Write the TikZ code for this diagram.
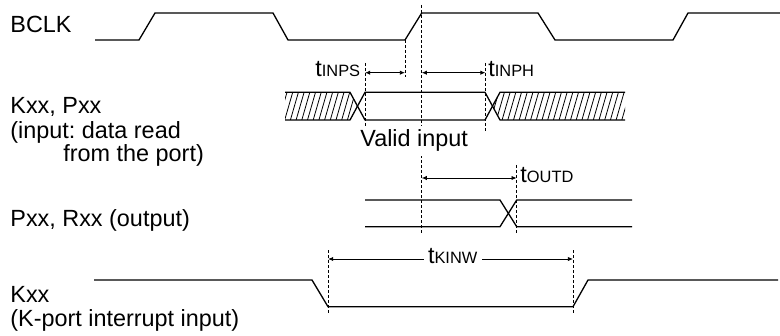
\documentclass[tikz,border=0pt]{standalone}
\usepackage{fontspec}
\setmainfont{Liberation Sans}
\usetikzlibrary{arrows.meta}
\frenchspacing
\newcommand{\tsub}[1]{t{\fontsize{8.2}{9}\selectfont #1}}
\tikzset{
  sig/.style={line width=0.65pt, line join=miter},
  guide/.style={line width=0.4pt, dash pattern=on 1.5pt off 1pt},
  dimarrow/.style={line width=0.45pt, {Latex[length=2.6pt,width=2.2pt]}-{Latex[length=2.6pt,width=2.2pt]}},
  lbl/.style={anchor=base west, inner sep=0pt, font=\fontsize{11.7}{14}\selectfont},
  hatch/.style={line width=0.4pt}
}
\begin{document}
\begin{tikzpicture}[x=0.5pt,y=-0.5pt]
\useasboundingbox (0,0) rectangle (780,336);

% left labels
\node[lbl] (lbclk) at (10,33) {BCLK};
\node[lbl] (lkp1) at (10,114) {Kxx, Pxx};
\node[lbl] (lkp2) at (10,139) {(input: data read};
\node[lbl] (lkp3) at (63,162) {from the port)};
\node[lbl] (lpr) at (10,227) {Pxx, Rxx (output)};
\node[lbl] (lk1) at (10,302) {Kxx};
\node[lbl] (lk2) at (10,326) {(K-port interrupt input)};

% BCLK
\draw[sig] (95,40) -- (139,40) -- (155,13) -- (273,13) -- (288,40) -- (405,40)
  -- (421.7,13) -- (538,13) -- (555,40) -- (673,40) -- (688,13) -- (780,13);

% Data input bus
\begin{scope}
  \clip (285,92.3) -- (350,92.3) -- (357.5,106.2) -- (350,120) -- (285,120) -- cycle;
  \foreach \i in {0,...,14} {
    \draw[hatch] ({279+5.7*\i},120) -- ({287+5.7*\i},92.3);
  }
\end{scope}
\begin{scope}
  \clip (500,92.3) -- (625,92.3) -- (625,120) -- (500,120) -- (492.5,106.2) -- cycle;
  \foreach \i in {0,...,24} {
    \draw[hatch] ({485+5.7*\i},120) -- ({493+5.7*\i},92.3);
  }
\end{scope}
\draw[sig] (285,92.3) -- (350,92.3) -- (365,120) -- (485,120) -- (500,92.3) -- (625,92.3);
\draw[sig] (285,120) -- (350,120) -- (365,92.3) -- (485,92.3) -- (500,120) -- (625,120);

% Output bus
\draw[sig] (365,200) -- (500,200) -- (516.7,226.7) -- (632,226.7);
\draw[sig] (365,226.7) -- (500,226.7) -- (516.7,200) -- (632,200);

% Kxx interrupt
\draw[sig] (94,280) -- (312,280) -- (328,306.7) -- (573,306.7) -- (588,280) -- (778,280);

% guide lines
\coordinate (g1a) at (365,63);   \coordinate (g1b) at (365,132);
\coordinate (g2a) at (405,40);   \coordinate (g2b) at (405,77);
\coordinate (g3a) at (421.7,5);  \coordinate (g3b) at (421.7,234);
\coordinate (g4a) at (485.5,63); \coordinate (g4b) at (485.5,132);
\coordinate (g5a) at (516.7,165);\coordinate (g5b) at (516.7,235);
\coordinate (g6a) at (328,250);  \coordinate (g6b) at (328,315);
\coordinate (g7a) at (573,250);  \coordinate (g7b) at (573,315);
\foreach \g in {1,...,7} { \draw[guide] (g\g a) -- (g\g b); }

\node[lbl, fill=white, inner sep=2pt] (valid) at (356,146.7) {Valid input};

% dimension arrows
\coordinate (ainps1) at (365,72.7);   \coordinate (ainps2) at (405,72.7);
\coordinate (ainph1) at (421.7,72.7); \coordinate (ainph2) at (485.5,72.7);
\coordinate (aoutd1) at (421.7,178);  \coordinate (aoutd2) at (516.7,178);
\coordinate (akinw1) at (328,259);    \coordinate (akinw2) at (573,259);
\draw[dimarrow] (ainps1) -- (ainps2);
\draw[dimarrow] (ainph1) -- (ainph2);
\draw[dimarrow] (aoutd1) -- (aoutd2);
\draw[dimarrow] (akinw1) -- (akinw2);

% timing labels
\node[lbl] (tinps) at (315,77) {\tsub{INPS}};
\node[lbl] (tinph) at (488,77) {\tsub{INPH}};
\node[lbl] (toutd) at (520,183) {\tsub{OUTD}};
\node[lbl, fill=white, outer sep=0pt] (tkinw) at (424,263) {\rule[-2pt]{0pt}{1pt}\kern2pt\tsub{KINW}\kern2.5pt};
\end{tikzpicture}
\end{document}
